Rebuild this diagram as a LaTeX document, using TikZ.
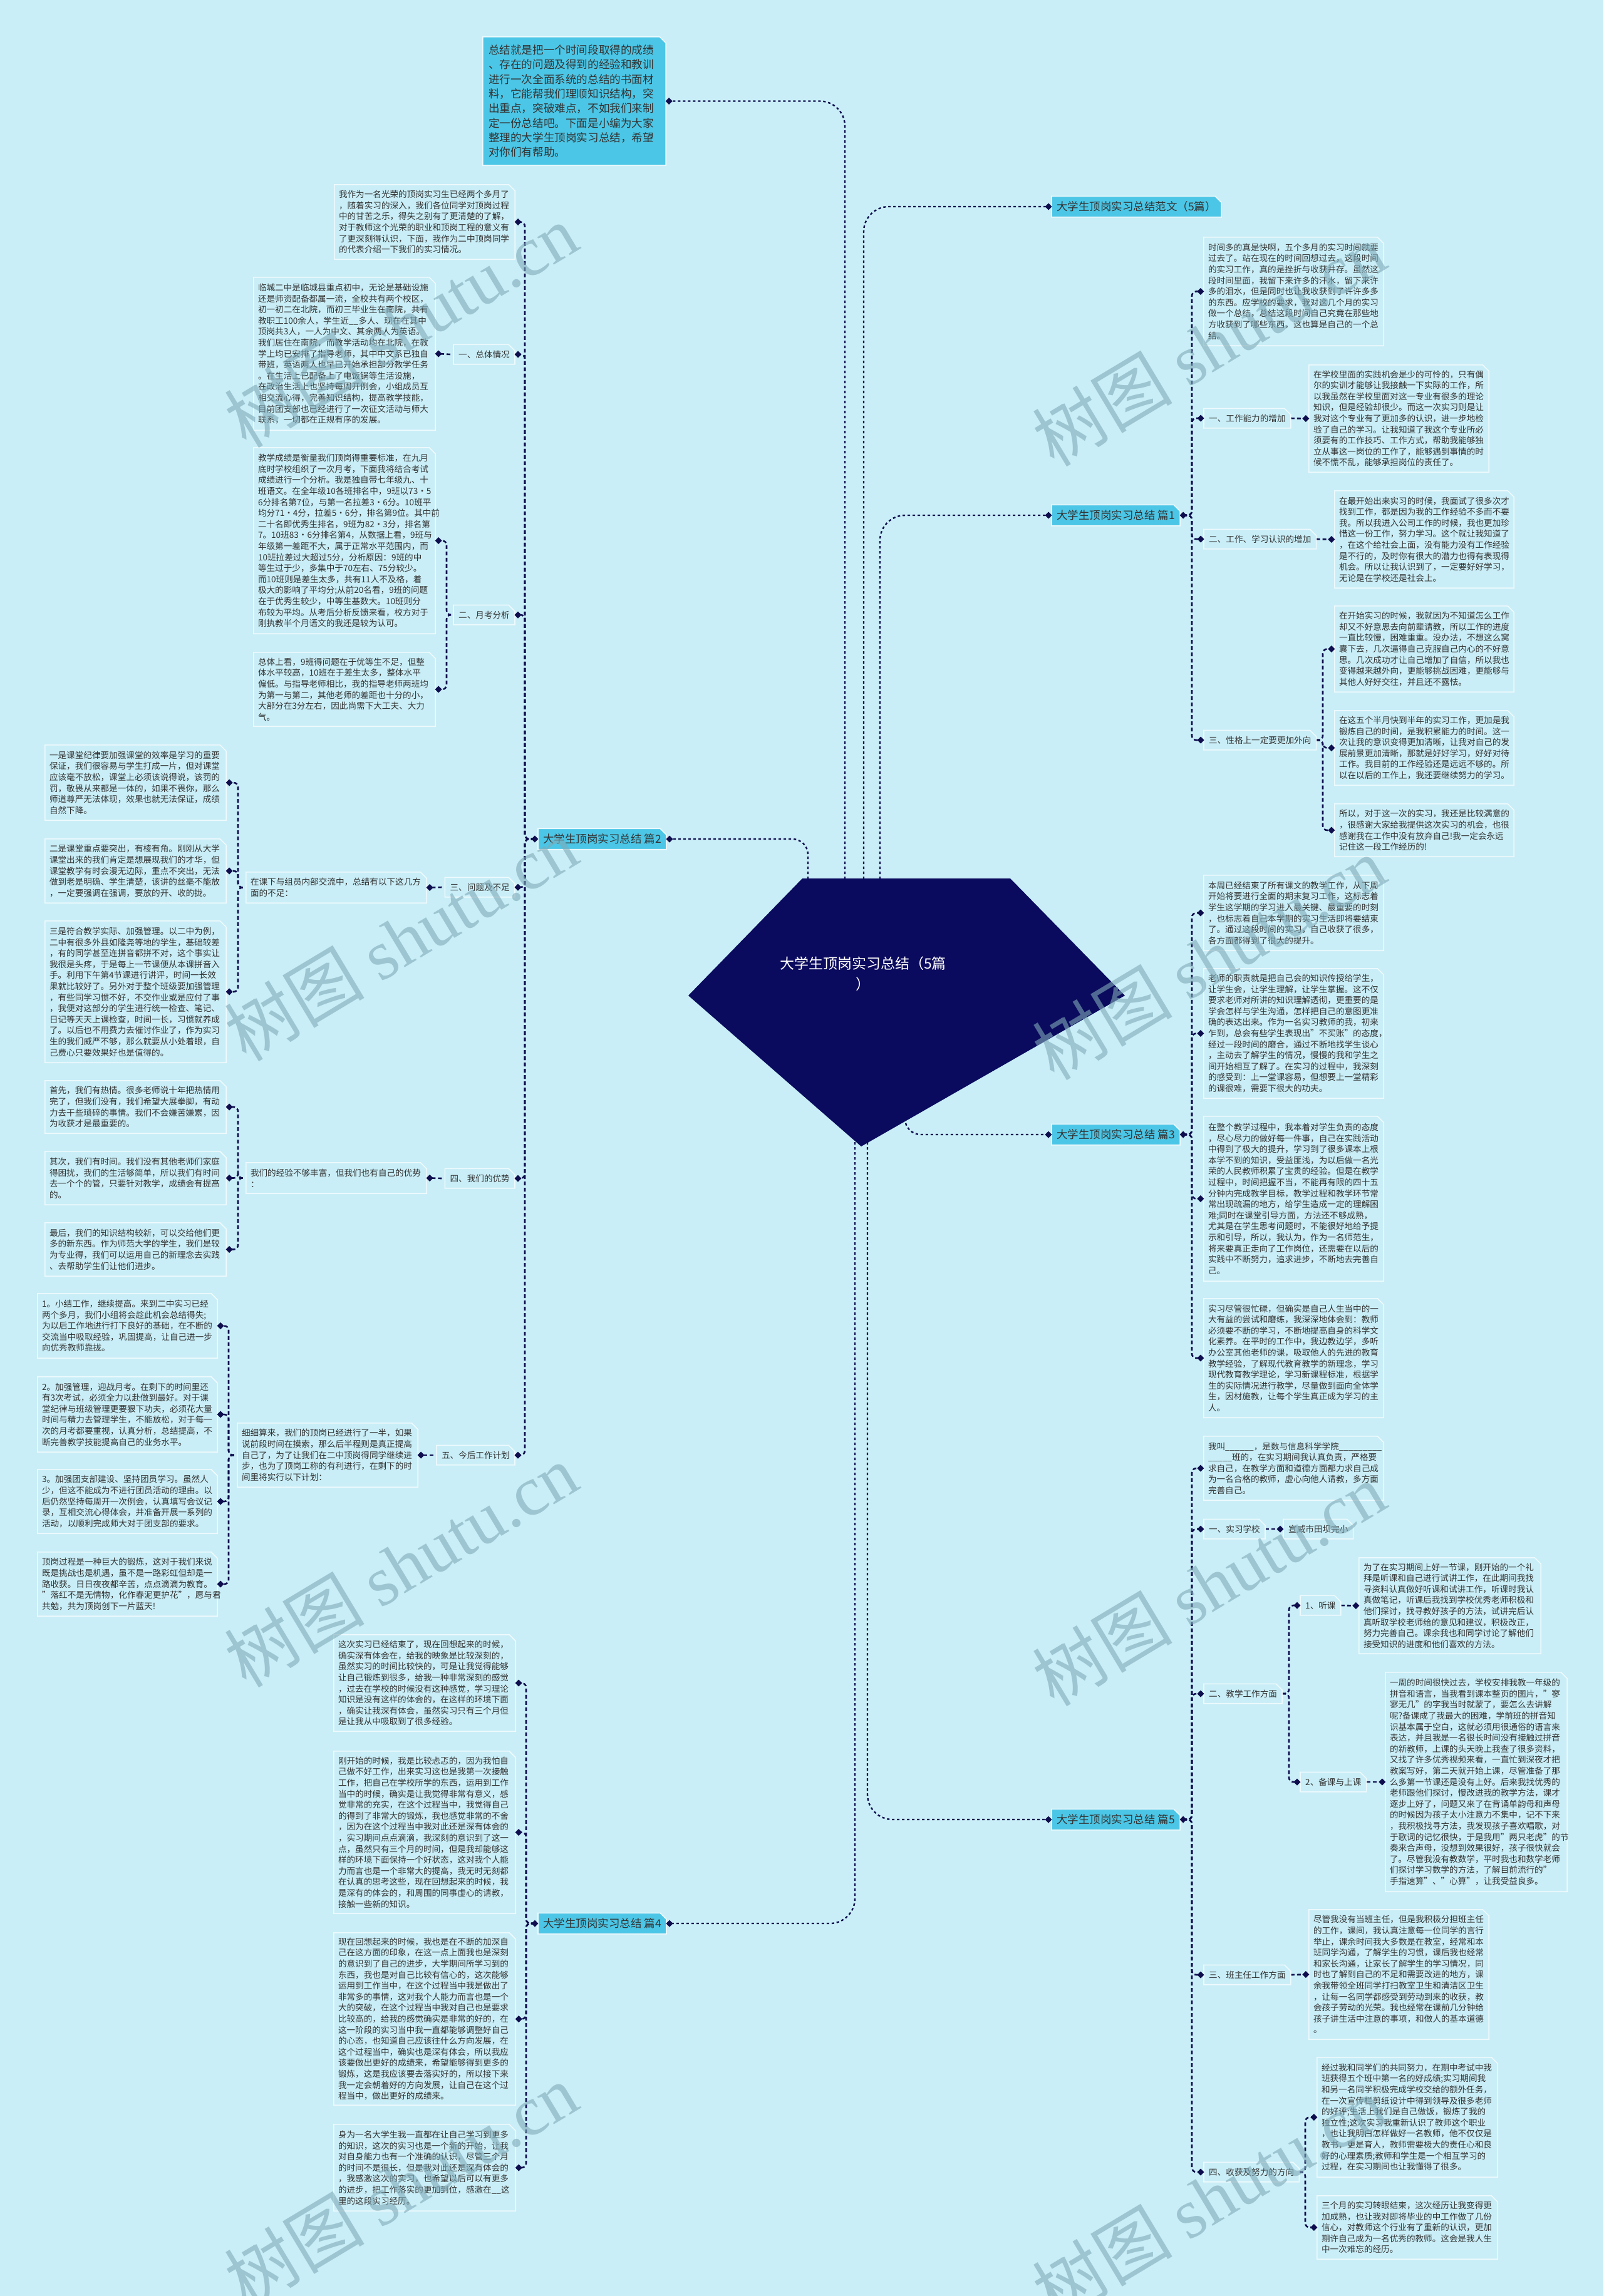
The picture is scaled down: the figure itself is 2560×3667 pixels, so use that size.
\documentclass[tikz,border=0pt]{standalone}
\usepackage{fontspec}
\setmainfont{Noto Sans CJK SC}
\newfontfamily\wmserif{Liberation Serif}
\usetikzlibrary{calc}
\definecolor{bgc}{HTML}{C9EEF7}
\definecolor{navy}{HTML}{0E0D4E}
\definecolor{pent}{HTML}{0A0A5E}
\definecolor{cyanf}{HTML}{4CC6E6}
\definecolor{edgec}{HTML}{EEFAFD}
\definecolor{txt}{HTML}{333333}
\definecolor{wm}{HTML}{7FAAB8}
\pgfdeclarelayer{bgg}
\pgfdeclarelayer{bgl}
\pgfsetlayers{bgg,bgl,main}
\tikzset{
 box/.style={inner xsep=7pt, inner ysep=0pt, align=left, text=txt, font=\fontsize{13.6pt}{17.6pt}\selectfont},
 lab/.style={inner xsep=8pt, inner ysep=0pt, minimum height=31pt, text=txt, font=\fontsize{13.6pt}{17.6pt}\selectfont},
 brn/.style={inner xsep=8pt, inner ysep=0pt, minimum height=33pt, text=txt, font=\fontsize{17.5pt}{20pt}\selectfont},
 frame/.style={draw=edgec, line width=1.6pt},
 fframe/.style={draw=edgec, line width=1.6pt, fill=cyanf},
 conn/.style={draw=navy, line width=2.6pt, dash pattern=on 6pt off 4pt, rounded corners=7pt},
 rconn/.style={draw=navy, line width=2.4pt, dash pattern=on 4pt off 4pt, rounded corners=40pt},
 wmk/.style={rotate=31, text=wm, opacity=0.6, font=\fontsize{112pt}{112pt}\selectfont}
}
\newcommand\fr[2][frame]{\begin{pgfonlayer}{bgl}\path[#1] (#2.south west) -- (#2.north west) -- ([xshift=-10pt]#2.north east) -- ([yshift=-10pt]#2.north east) -- (#2.south east) -- cycle;\end{pgfonlayer}}
\newcommand\bx[7][]{%
 \pgfmathsetmacro\bw{#5-#3}%
 \pgfmathsetmacro\bh{#6-#4}%
 \pgfmathsetmacro\bcx{(#3+#5)/2}%
 \pgfmathsetmacro\bcy{(#4+#6)/2}%
 \pgfmathsetmacro\btw{#5-#3-14}%
 \node[box,minimum width=\bw pt,minimum height=\bh pt,text width=\btw pt,#1] (#2) at (\bcx,\bcy) {#7};%
 \fr{#2}}
\newcommand\lb[6][lab]{\node[#1,anchor=#3] (#2) at (#4,#5) {#6};\fr{#2}}
\newcommand\br[5]{\node[brn,anchor=#2] (#1) at (#3,#4) {#5};\fr[fframe]{#1}}
\newcommand\dt[1]{\fill[navy] (#1) +(-5.5,0) -- +(0,-5.5) -- +(5.5,0) -- +(0,5.5) -- cycle;}
\newcommand\lk[3]{\begin{pgfonlayer}{bgg}\draw[conn] (#1) -- (#2 |- #1) -- (#2 |- #3) -- (#3);\end{pgfonlayer}}
\newcommand\st[2]{\begin{pgfonlayer}{bgg}\draw[conn] (#1) -- (#2);\end{pgfonlayer}}
\begin{document}
\begin{tikzpicture}[x=1pt,y=-1pt]
\begin{pgfonlayer}{bgg}
\fill[bgc] (0,0) rectangle (2560,3667);
\end{pgfonlayer}
\useasboundingbox (0,0) rectangle (2560,3667);

% ---------- root ----------
\fill[pent] (1281,1403) -- (1613,1403) -- (1796,1590) -- (1375,1831) -- (1099,1590) -- cycle;
\node[text=white, align=center, font=\fontsize{23pt}{33pt}\selectfont] (root) at (1378,1555) {大学生顶岗实习总结（5篇\\）};
\coordinate (rA) at (1349,1404);
\coordinate (rB) at (1379,1404);
\coordinate (rC) at (1405,1404);
\coordinate (rD) at (1290,1404);
\coordinate (rE) at (1445,1770);
\coordinate (rF) at (1365,1800);
\coordinate (rG) at (1385,1800);

% ---------- intro ----------
\node[inner xsep=9pt, inner ysep=0pt, minimum width=292pt, minimum height=205pt, text width=274pt, align=left, text=txt, font=\fontsize{17.6pt}{23.3pt}\selectfont] (intro) at (917,161.5) {总结就是把一个时间段取得的成绩\\、存在的问题及得到的经验和教训\\进行一次全面系统的总结的书面材\\料，它能帮我们理顺知识结构，突\\出重点，突破难点，不如我们来制\\定一份总结吧。下面是小编为大家\\整理的大学生顶岗实习总结，希望\\对你们有帮助。};
\fr[fframe]{intro}

% ---------- branches ----------
\br{fan}{west}{1679}{330}{大学生顶岗实习总结范文（5篇）}
\br{b1}{west}{1679}{823}{大学生顶岗实习总结 篇1}
\br{b2}{east}{1064}{1340}{大学生顶岗实习总结 篇2}
\br{b3}{west}{1679}{1812}{大学生顶岗实习总结 篇3}
\br{b4}{east}{1064}{3072}{大学生顶岗实习总结 篇4}
\br{b5}{west}{1679}{2906}{大学生顶岗实习总结 篇5}

% ---------- 篇2 ----------
\bx{A}{534}{295}{822}{414}{我作为一名光荣的顶岗实习生已经两个多月了\\，随着实习的深入，我们各位同学对顶岗过程\\中的甘苦之乐，得失之别有了更清楚的了解，\\对于教师这个光荣的职业和顶岗工程的意义有\\了更深刻得认识，下面，我作为二中顶岗同学\\的代表介绍一下我们的实习情况。}
\lb{L1}{east}{822}{566}{一、总体情况}
\bx{B}{405}{443}{695}{687}{临城二中是临城县重点初中，无论是基础设施\\还是师资配备都属一流，全校共有两个校区，\\初一初二在北院，而初三毕业生在南院，共有\\教职工100余人，学生近\_\_多人、现在在其中\\顶岗共3人，一人为中文、其余两人为英语。\\我们居住在南院，而教学活动均在北院，在教\\学上均已安排了指导老师，其中中文系已独自\\带班，英语两人也早已开始承担部分教学任务\\。在生活上已配备上了电饭锅等生活设施，\\在政治生活上也坚持每周开例会，小组成员互\\相交流心得，完善知识结构，提高教学技能，\\目前团支部也已经进行了一次征文活动与师大\\联系，一切都在正规有序的发展。}
\lb{L2}{east}{822}{982}{二、月考分析}
\bx{C}{405}{715}{695}{1012}{教学成绩是衡量我们顶岗得重要标准，在九月\\底时学校组织了一次月考，下面我将结合考试\\成绩进行一个分析。我是独自带七年级九、十\\班语文。在全年级10各班排名中，9班以73·5\\6分排名第7位，与第一名拉差3·6分。10班平\\均分71·4分，拉差5·6分，排名第9位。其中前\\二十名即优秀生排名，9班为82·3分，排名第\\7。10班83·6分排名第4，从数据上看，9班与\\年级第一差距不大，属于正常水平范围内，而\\10班拉差过大超过5分，分析原因：9班的中\\等生过于少，多集中于70左右、75分较少。\\而10班则是差生太多，共有11人不及格，着\\极大的影响了平均分;从前20名看，9班的问题\\在于优秀生较少，中等生基数大。10班则分\\布较为平均。从考后分析反馈来看，校方对于\\刚执教半个月语文的我还是较为认可。}
\bx{D}{405}{1042}{695}{1160}{总体上看，9班得问题在于优等生不足，但整\\体水平较高，10班在于差生太多，整体水平\\偏低。与指导老师相比，我的指导老师两班均\\为第一与第二，其他老师的差距也十分的小，\\大部分在3分左右，因此尚需下大工夫、大力\\气。}
\lb{L3}{east}{822}{1417}{三、问题及不足}
\bx{M3}{393}{1393}{681}{1442}{在课下与组员内部交流中，总结有以下这几方\\面的不足：}
\bx{E}{72}{1190}{361}{1310}{一是课堂纪律要加强课堂的效率是学习的重要\\保证，我们很容易与学生打成一片，但对课堂\\应该毫不放松，课堂上必须该说得说，该罚的\\罚，敬畏从来都是一体的，如果不畏你，那么\\师道尊严无法体现，效果也就无法保证，成绩\\自然下降。}
\bx{F}{72}{1340}{361}{1442}{二是课堂重点要突出，有棱有角。刚刚从大学\\课堂出来的我们肯定是想展现我们的才华，但\\课堂教学有时会漫无边际，重点不突出，无法\\做到老是明确、学生清楚，该讲的丝毫不能放\\，一定要强调在强调，要放的开、收的拢。}
\bx{G}{72}{1471}{361}{1697}{三是符合教学实际、加强管理。以二中为例，\\二中有很多外县如隆尧等地的学生，基础较差\\，有的同学甚至连拼音都拼不对，这个事实让\\我很是头疼，于是每上一节课便从本课拼音入\\手。利用下午第4节课进行讲评，时间一长效\\果就比较好了。另外对于整个班级要加强管理\\，有些同学习惯不好，不交作业或是应付了事\\，我便对这部分的学生进行统一检查、笔记、\\日记等天天上课检查，时间一长，习惯就养成\\了。以后也不用费力去催讨作业了，作为实习\\生的我们威严不够，那么就要从小处着眼，自\\己费心只要效果好也是值得的。}
\lb{L4}{east}{822}{1882}{四、我们的优势}
\bx{M4}{393}{1857}{681}{1906}{我们的经验不够丰富，但我们也有自己的优势\\：}
\bx{H}{72}{1726}{361}{1810}{首先，我们有热情。很多老师说十年把热情用\\完了，但我们没有，我们希望大展拳脚，有动\\力去干些琐碎的事情。我们不会嫌苦嫌累，因\\为收获才是最重要的。}
\bx{I}{72}{1839}{361}{1924}{其次，我们有时间。我们没有其他老师们家庭\\得困扰，我们的生活够简单，所以我们有时间\\去一个个的管，只要针对教学，成绩会有提高\\的。}
\bx{J}{72}{1953}{361}{2038}{最后，我们的知识结构较新，可以交给他们更\\多的新东西。作为师范大学的学生，我们是较\\为专业得，我们可以运用自己的新理念去实践\\、去帮助学生们让他们进步。}
\lb{L5}{east}{822}{2324}{五、今后工作计划}
\bx{M5}{379}{2273}{667}{2375}{细细算来，我们的顶岗已经进行了一半，如果\\说前段时间在摸索，那么后半程则是真正提高\\自己了，为了让我们在二中顶岗得同学继续进\\步，也为了顶岗工称的有利进行，在剩下的时\\间里将实行以下计划：}
\bx{K}{60}{2066}{347}{2169}{1。小结工作，继续提高。来到二中实习已经\\两个多月，我们小组将会趁此机会总结得失;\\为以后工作地进行打下良好的基础，在不断的\\交流当中吸取经验，巩固提高，让自己进一步\\向优秀教师靠拢。}
\bx{KL}{60}{2199}{347}{2319}{2。加强管理，迎战月考。在剩下的时间里还\\有3次考试，必须全力以赴做到最好。对于课\\堂纪律与班级管理更要狠下功夫，必须花大量\\时间与精力去管理学生，不能放松，对于每一\\次的月考都要重视，认真分析，总结提高，不\\断完善教学技能提高自己的业务水平。}
\bx{KM}{60}{2347}{347}{2449}{3。加强团支部建设、坚持团员学习。虽然人\\少，但这不能成为不进行团员活动的理由。以\\后仍然坚持每周开一次例会，认真填写会议记\\录，互相交流心得体会，并准备开展一系列的\\活动，以顺利完成师大对于团支部的要求。}
\bx{KN}{60}{2479}{347}{2581}{顶岗过程是一种巨大的锻炼，这对于我们来说\\既是挑战也是机遇，虽不是一路彩虹但却是一\\路收获。日日夜夜都辛苦，点点滴滴为教育。\\"落红不是无情物，化作春泥更护花"，愿与君\\共勉，共为顶岗创下一片蓝天!}

% ---------- 篇4 ----------
\bx{P1}{533}{2611}{823}{2765}{这次实习已经结束了，现在回想起来的时候，\\确实深有体会在，给我的映象是比较深刻的，\\虽然实习的时间比较快的，可是让我觉得能够\\让自己锻炼到很多，给我一种非常深刻的感觉\\，过去在学校的时候没有这种感觉，学习理论\\知识是没有这样的体会的，在这样的环境下面\\，确实让我深有体会，虽然实习只有三个月但\\是让我从中吸取到了很多经验。}
\bx{P2}{533}{2797}{823}{3056}{刚开始的时候，我是比较忐忑的，因为我怕自\\己做不好工作，出来实习这也是我第一次接触\\工作，把自己在学校所学的东西，运用到工作\\当中的时候，确实是让我觉得非常有意义，感\\觉非常的充实，在这个过程当中，我觉得自己\\的得到了非常大的锻炼，我也感觉非常的不舍\\，因为在这个过程当中我对此还是深有体会的\\，实习期间点点滴滴，我深刻的意识到了这一\\点，虽然只有三个月的时间，但是我却能够这\\样的环境下面保持一个好状态，这对我个人能\\力而言也是一个非常大的提高，我无时无刻都\\在认真的思考这些，现在回想起来的时候，我\\是深有的体会的，和周围的同事虚心的请教，\\接触一些新的知识。}
\bx{P3}{533}{3087}{823}{3362}{现在回想起来的时候，我也是在不断的加深自\\己在这方面的印象，在这一点上面我也是深刻\\的意识到了自己的进步，大学期间所学习到的\\东西，我也是对自己比较有信心的，这次能够\\运用到工作当中，在这个过程当中我是做出了\\非常多的事情，这对我个人能力而言也是一个\\大的突破，在这个过程当中我对自己也是要求\\比较高的，给我的感觉确实是非常的好的，在\\这一阶段的实习当中我一直都能够调整好自己\\的心态，也知道自己应该往什么方向发展，在\\这个过程当中，确实也是深有体会，所以我应\\该要做出更好的成绩来，希望能够得到更多的\\锻炼，这是我应该要去落实好的，所以接下来\\我一定会朝着好的方向发展，让自己在这个过\\程当中，做出更好的成绩来。}
\bx{P4}{533}{3393}{823}{3531}{身为一名大学生我一直都在让自己学习到更多\\的知识，这次的实习也是一个新的开始，让我\\对自身能力也有一个准确的认识，尽管三个月\\的时间不是很长，但是我对此还是深有体会的\\，我感激这次的实习，也希望以后可以有更多\\的进步，把工作落实的更加到位，感激在\_\_这\\里的这段实习经历。}

% ---------- 篇1 ----------
\bx{R1}{1922}{379}{2209}{552}{时间多的真是快啊，五个多月的实习时间就要\\过去了。站在现在的时间回想过去，这段时间\\的实习工作，真的是挫折与收获并存。虽然这\\段时间里面，我留下来许多的汗水，留下来许\\多的泪水，但是同时也让我收获到了许许多多\\的东西。应学校的要求，我对这几个月的实习\\做一个总结，总结这段时间自己究竟在那些地\\方收获到了哪些东西，这也算是自己的一个总\\结。}
\lb{Q1}{west}{1922}{668}{一、工作能力的增加}
\bx{R2}{2090}{583}{2377}{754}{在学校里面的实践机会是少的可怜的，只有偶\\尔的实训才能够让我接触一下实际的工作，所\\以我虽然在学校里面对这一专业有很多的理论\\知识，但是经验却很少。而这一次实习则是让\\我对这个专业有了更加多的认识，进一步地检\\验了自己的学习。让我知道了我这个专业所必\\须要有的工作技巧、工作方式，帮助我能够独\\立从事这一岗位的工作了，能够遇到事情的时\\候不慌不乱，能够承担岗位的责任了。}
\lb{Q2}{west}{1922}{861}{二、工作、学习认识的增加}
\bx{R3}{2131}{784}{2417}{939}{在最开始出来实习的时候，我面试了很多次才\\找到工作，都是因为我的工作经验不多而不要\\我。所以我进入公司工作的时候，我也更加珍\\惜这一份工作，努力学习。这个就让我知道了\\，在这个给社会上面，没有能力没有工作经验\\是不行的，及时你有很大的潜力也得有表现得\\机会。所以让我认识到了，一定要好好学习，\\无论是在学校还是社会上。}
\lb{Q3}{west}{1922}{1182}{三、性格上一定要更加外向}
\bx{R4}{2131}{968}{2417}{1105}{在开始实习的时候，我就因为不知道怎么工作\\却又不好意思去向前辈请教，所以工作的进度\\一直比较慢，困难重重。没办法，不想这么窝\\囊下去，几次逼得自己克服自己内心的不好意\\思。几次成功才让自己增加了自信，所以我也\\变得越来越外向，更能够挑战困难，更能够与\\其他人好好交往，并且还不露怯。}
\bx{R5}{2131}{1135}{2417}{1254}{在这五个半月快到半年的实习工作，更加是我\\锻炼自己的时间，是我积累能力的时间。这一\\次让我的意识变得更加清晰，让我对自己的发\\展前景更加清晰，那就是好好学习，好好对待\\工作。我目前的工作经验还是远远不够的。所\\以在以后的工作上，我还要继续努力的学习。}
\bx{R6}{2131}{1284}{2417}{1368}{所以，对于这一次的实习，我还是比较满意的\\，很感谢大家给我提供这次实习的机会，也很\\感谢我在工作中没有放弃自己!我一定会永远\\记住这一段工作经历的!}

% ---------- 篇3 ----------
\bx{S1}{1922}{1398}{2209}{1518}{本周已经结束了所有课文的教学工作，从下周\\开始将要进行全面的期末复习工作，这标志着\\学生这学期的学习进入最关键、最重要的时刻\\，也标志着自己本学期的实习生活即将要结束\\了。通过这段时间的实习，自己收获了很多，\\各方面都得到了很大的提升。}
\bx{S2}{1922}{1547}{2209}{1754}{老师的职责就是把自己会的知识传授给学生，\\让学生会，让学生理解，让学生掌握。这不仅\\要求老师对所讲的知识理解透彻，更重要的是\\学会怎样与学生沟通，怎样把自己的意图更准\\确的表达出来。作为一名实习教师的我，初来\\乍到，总会有些学生表现出"不买账"的态度，\\经过一段时间的磨合，通过不断地找学生谈心\\，主动去了解学生的情况，慢慢的我和学生之\\间开始相互了解了。在实习的过程中，我深刻\\的感受到：上一堂课容易，但想要上一堂精彩\\的课很难，需要下很大的功夫。}
\bx{S3}{1922}{1783}{2209}{2046}{在整个教学过程中，我本着对学生负责的态度\\，尽心尽力的做好每一件事，自己在实践活动\\中得到了极大的提升，学习到了很多课本上根\\本学不到的知识，受益匪浅，为以后做一名光\\荣的人民教师积累了宝贵的经验。但是在教学\\过程中，时间把握不当，不能再有限的四十五\\分钟内完成教学目标，教学过程和教学环节常\\常出现疏漏的地方，给学生造成一定的理解困\\难;同时在课堂引导方面，方法还不够成熟，\\尤其是在学生思考问题时，不能很好地给予提\\示和引导，所以，我认为，作为一名师范生，\\将来要真正走向了工作岗位，还需要在以后的\\实践中不断努力，追求进步，不断地去完善自\\己。}
\bx{S4}{1922}{2074}{2209}{2264}{实习尽管很忙碌，但确实是自己人生当中的一\\大有益的尝试和磨练，我深深地体会到：教师\\必须要不断的学习，不断地提高自身的科学文\\化素养。在平时的工作中，我边教边学，多听\\办公室其他老师的课，吸取他人的先进的教育\\教学经验，了解现代教育教学的新理念，学习\\现代教育教学理论，学习新课程标准，根据学\\生的实际情况进行教学，尽量做到面向全体学\\生，因材施教，让每个学生真正成为学习的主\\人。}

% ---------- 篇5 ----------
\bx{T1}{1922}{2294}{2209}{2396}{我叫\_\_\_\_\_\_，是数与信息科学学院\_\_\_\_\_\_\_\_\_\\\_\_\_\_\_班的，在实习期间我认真负责，严格要\\求自己，在教学方面和道德方面都力求自己成\\为一名合格的教师，虚心向他人请教，多方面\\完善自己。}
\lb{W1}{west}{1922}{2442}{一、实习学校}
\lb{Y1}{west}{2049}{2442}{宣威市田坝完小}
\lb{W2}{west}{1922}{2705}{二、教学工作方面}
\lb{X1}{west}{2076}{2564}{1、听课}
\bx{U1}{2170}{2488}{2460}{2641}{为了在实习期间上好一节课，刚开始的一个礼\\拜是听课和自己进行试讲工作，在此期间我找\\寻资料认真做好听课和试讲工作，听课时我认\\真做笔记，听课后我找到学校优秀老师积极和\\他们探讨，找寻教好孩子的方法，试讲完后认\\真听取学校老师给的意见和建议，积极改正，\\努力完善自己。课余我也和同学讨论了解他们\\接受知识的进度和他们喜欢的方法。}
\lb{X2}{west}{2076}{2846}{2、备课与上课}
\bx{U2}{2212}{2671}{2502}{3021}{一周的时间很快过去，学校安排我教一年级的\\拼音和语言，当我看到课本整页的图片，"寥\\寥无几"的字我当时就蒙了，要怎么去讲解\\呢?备课成了我最大的困难，学前班的拼音知\\识基本属于空白，这就必须用很通俗的语言来\\表达，并且我是一名很长时间没有接触过拼音\\的新教师，上课的头天晚上我查了很多资料，\\又找了许多优秀视频来看，一直忙到深夜才把\\教案写好，第二天就开始上课，尽管准备了那\\么多第一节课还是没有上好。后来我找优秀的\\老师跟他们探讨，慢改进我的教学方法，课才\\逐步上好了，问题又来了在背诵单韵母和声母\\的时候因为孩子太小注意力不集中，记不下来\\，我积极找寻方法，我发现孩子喜欢唱歌，对\\于歌词的记忆很快，于是我用"两只老虎"的节\\奏来合声母，没想到效果很好，孩子很快就会\\了。尽管我没有教数学，平时我也和数学老师\\们探讨学习数学的方法，了解目前流行的"\\手指速算"、"心算"，让我受益良多。}
\lb{W3}{west}{1922}{3154}{三、班主任工作方面}
\bx{U3}{2090}{3050}{2377}{3257}{尽管我没有当班主任，但是我积极分担班主任\\的工作，课间，我认真注意每一位同学的言行\\举止，课余时间我大多数是在教室，经常和本\\班同学沟通，了解学生的习惯，课后我也经常\\和家长沟通，让家长了解学生的学习情况，同\\时也了解到自己的不足和需要改进的地方，课\\余我带领全班同学打扫教室卫生和清洁区卫生\\，让每一名同学都感受到劳动到来的收获，教\\会孩子劳动的光荣。我也经常在课前几分钟给\\孩子讲生活中注意的事项，和做人的基本道德\\。}
\lb{W4}{west}{1922}{3469}{四、收获及努力的方向}
\bx{V1}{2103}{3286}{2391}{3477}{经过我和同学们的共同努力，在期中考试中我\\班获得五个班中第一名的好成绩;实习期间我\\和另一名同学积极完成学校交给的额外任务，\\在一次宣传栏剪纸设计中得到领导及很多老师\\的好评;生活上我们是自己做饭，锻炼了我的\\独立性;这次实习我重新认识了教师这个职业\\，也让我明白怎样做好一名教师，他不仅仅是\\教书，更是育人，教师需要极大的责任心和良\\好的心理素质;教师和学生是一个相互学习的\\过程，在实习期间也让我懂得了很多。}
\bx{V2}{2103}{3507}{2391}{3608}{三个月的实习转眼结束，这次经历让我变得更\\加成熟，也让我对即将毕业的中工作做了几份\\信心，对教师这个行业有了重新的认识，更加\\期许自己成为一名优秀的教师。这会是我人生\\中一次难忘的经历。}

% ---------- dot coordinates ----------
\foreach \n in {intro,A,B,C,D,M3,E,F,G,M4,H,I,J,M5,K,KL,KM,KN,P1,P2,P3,P4,L1,L2,L3,L4,L5,b2,b4}
  {\coordinate (\n-r) at ([xshift=5pt]\n.east);}
\foreach \n in {fan,b1,b3,b5,R1,R2,R3,R4,R5,R6,S1,S2,S3,S4,T1,U1,U2,U3,V1,V2,Q1,Q2,Q3,W1,W2,W3,W4,X1,X2,Y1,M3,M4,M5,L1,L2,L3,L4,L5,b2,b4}
  {\coordinate (\n-l) at ([xshift=-5pt]\n.west);}
\foreach \n in {b1,b3,b5}
  {\coordinate (\n-r) at ([xshift=5pt]\n.east);}
\foreach \n in {Q1,Q2,Q3,W1,W2,W3,W4,X1,X2}
  {\coordinate (\n-r) at (\n.east);}
\coordinate (sp2) at (838,0);
\coordinate (spC) at (713,0);
\coordinate (spE) at (380,0);
\coordinate (spK) at (365,0);
\coordinate (sp4) at (840,0);
\coordinate (sp1) at (1903,0);
\coordinate (spR) at (2112,0);
\coordinate (spW) at (2058,0);
\coordinate (spV) at (2084,0);

% ---------- connectors ----------
\begin{pgfonlayer}{bgg}
\draw[rconn] (rA) |- (intro-r);
\draw[rconn] (rB) |- (fan-l);
\draw[rconn] (rC) |- (b1-l);
\draw[rconn,rounded corners=25pt] (rD) |- (b2-r);
\draw[rconn,rounded corners=25pt] (rE) |- (b3-l);
\draw[rconn] (rF) |- (b4-r);
\draw[rconn] (rG) |- (b5-l);
\end{pgfonlayer}
\foreach \c in {A,L1,L2,L3,L4,L5} {\lk{b2-l}{sp2}{\c-r}}
\st{L1-l}{B-r}
\foreach \c in {C,D} {\lk{L2-l}{spC}{\c-r}}
\st{L3-l}{M3-r}
\foreach \c in {E,F,G} {\lk{M3-l}{spE}{\c-r}}
\st{L4-l}{M4-r}
\foreach \c in {H,I,J} {\lk{M4-l}{spE}{\c-r}}
\st{L5-l}{M5-r}
\foreach \c in {K,KL,KM,KN} {\lk{M5-l}{spK}{\c-r}}
\foreach \c in {P1,P2,P3,P4} {\lk{b4-l}{sp4}{\c-r}}
\foreach \c in {R1,Q1,Q2,Q3} {\lk{b1-r}{sp1}{\c-l}}
\st{Q1-r}{R2-l}
\st{Q2-r}{R3-l}
\foreach \c in {R4,R5,R6} {\lk{Q3-r}{spR}{\c-l}}
\foreach \c in {S1,S2,S3,S4} {\lk{b3-r}{sp1}{\c-l}}
\foreach \c in {T1,W1,W2,W3,W4} {\lk{b5-r}{sp1}{\c-l}}
\st{W1-r}{Y1-l}
\foreach \c in {X1,X2} {\lk{W2-r}{spW}{\c-l}}
\st{X1-r}{U1-l}
\st{X2-r}{U2-l}
\st{W3-r}{U3-l}
\foreach \c in {V1,V2} {\lk{W4-r}{spV}{\c-l}}

% ---------- dots ----------
\foreach \n in {intro-r,fan-l,b1-l,b2-r,b3-l,b4-r,b5-l,A-r,L1-r,L2-r,L3-r,L4-r,L5-r,B-r,C-r,D-r,M3-r,M4-r,M5-r,E-r,F-r,G-r,H-r,I-r,J-r,K-r,KL-r,KM-r,KN-r,P1-r,P2-r,P3-r,P4-r,R1-l,Q1-l,Q2-l,Q3-l,R2-l,R3-l,R4-l,R5-l,R6-l,S1-l,S2-l,S3-l,S4-l,T1-l,W1-l,W2-l,W3-l,W4-l,Y1-l,X1-l,X2-l,U1-l,U2-l,U3-l,V1-l,V2-l,b1-r,b3-r,b5-r,b2-l,b4-l}
  {\dt{\n}}

% ---------- watermarks ----------
\foreach \wx/\wy in {640/520, 1930/550, 640/1500, 1930/1530, 640/2500, 1930/2530, 640/3490, 1930/3510}
  {\node[wmk] at (\wx,\wy) {树图 {\wmserif shutu.cn}};}
\end{tikzpicture}
\end{document}
